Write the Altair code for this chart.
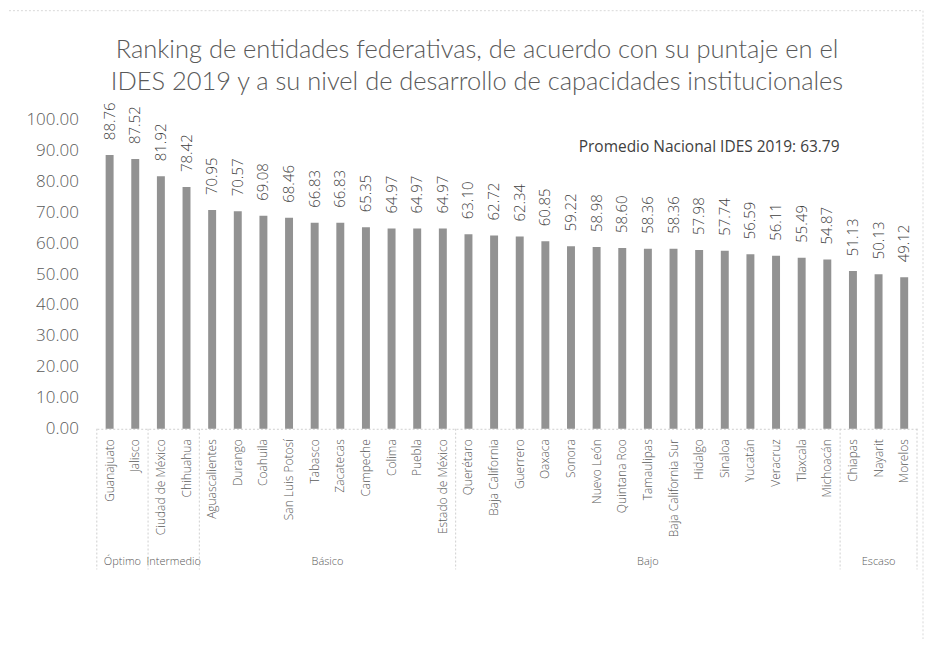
import altair as alt
import pandas as pd

estados = ["Guanajuato", "Jalisco", "Ciudad de México", "Chihuahua", "Aguascalientes",
           "Durango", "Coahuila", "San Luis Potosí", "Tabasco", "Zacatecas", "Campeche",
           "Colima", "Puebla", "Estado de México", "Querétaro", "Baja California",
           "Guerrero", "Oaxaca", "Sonora", "Nuevo León", "Quintana Roo", "Tamaulipas",
           "Baja California Sur", "Hidalgo", "Sinaloa", "Yucatán", "Veracruz", "Tlaxcala",
           "Michoacán", "Chiapas", "Nayarit", "Morelos"]
puntajes = [88.76, 87.52, 81.92, 78.42, 70.95, 70.57, 69.08, 68.46, 66.83, 66.83, 65.35,
            64.97, 64.97, 64.97, 63.10, 62.72, 62.34, 60.85, 59.22, 58.98, 58.60, 58.36,
            58.36, 57.98, 57.74, 56.59, 56.11, 55.49, 54.87, 51.13, 50.13, 49.12]
niveles = ["Óptimo", "Intermedio", "Básico", "Bajo", "Escaso"]
nivel_inicio = [0, 2, 4, 14, 29]
nivel_fin = [2, 4, 14, 29, 32]
y_ticks = [0, 10, 20, 30, 40, 50, 60, 70, 80, 90, 100]
titulo = ["Ranking de entidades federativas, de acuerdo con su puntaje en el",
          "IDES 2019 y a su nivel de desarrollo de capacidades institucionales"]
promedio_texto = "Promedio Nacional IDES 2019: 63.79"

W, H = 822, 309
GRAY = "#595959"
FONT = "Open Sans"

df = pd.DataFrame({"estado": estados, "puntaje": puntajes})
grp = pd.DataFrame({"nivel": niveles, "ini": nivel_inicio, "fin": nivel_fin})
grp["mid"] = (grp["ini"] + grp["fin"]) / 2
bounds = pd.DataFrame({"b": sorted(set(nivel_inicio + nivel_fin))})
ticks_df = pd.DataFrame({"puntaje": y_ticks})

xaxis = alt.Axis(title=None, labelAngle=-90, labelFontSize=12, labelColor=GRAY,
                 labelFont=FONT, labelFontWeight=300, ticks=False,
                 domainColor="#cfcfcf", domainDash=[2, 2], labelPadding=10,
                 labelLimit=200)
xscale = alt.Scale(paddingInner=0.69, paddingOuter=0.345)
yscale = alt.Scale(domain=[0, 100], nice=False)

bars = alt.Chart(df).mark_bar(color="#929292").encode(
    x=alt.X("estado:N", sort=estados, scale=xscale, axis=xaxis),
    y=alt.Y("puntaje:Q", scale=yscale, axis=None))
labels = alt.Chart(df).mark_text(angle=270, align="left", baseline="middle", dx=15,
                                 fontSize=15, font=FONT, fontWeight=300,
                                 color="#404040").encode(
    x=alt.X("estado:N", sort=estados, scale=xscale, axis=xaxis),
    y=alt.Y("puntaje:Q", scale=yscale, axis=None),
    text=alt.Text("puntaje:Q", format=".2f"))
ylabels = alt.Chart(ticks_df).mark_text(align="right", baseline="middle", fontSize=17,
                                        font=FONT, fontWeight=300, color=GRAY).encode(
    x=alt.value(-18),
    y=alt.Y("puntaje:Q", scale=yscale, axis=None),
    text=alt.Text("puntaje:Q", format=".2f"))
promedio = alt.Chart(pd.DataFrame({"t": [promedio_texto]})).mark_text(
    align="left", baseline="middle", fontSize=15.5, font=FONT, color="#404040").encode(
    x=alt.value(483), y=alt.value(27), text="t:N")

base_left = alt.layer(bars, labels, ylabels, promedio)

xq = alt.Scale(domain=[0, 32], nice=False, zero=False)
seps = alt.Chart(bounds).mark_rule(color="#cfcfcf", strokeDash=[2, 2], strokeWidth=1).encode(
    x=alt.X("b:Q", scale=xq, axis=None), y=alt.value(H), y2=alt.value(H + 141))
glabels = alt.Chart(grp).mark_text(fontSize=11, font=FONT, fontWeight=300, color=GRAY,
                                   baseline="middle").encode(
    x=alt.X("mid:Q", scale=xq, axis=None), y=alt.value(H + 134), text="nivel:N")
t1 = alt.Chart(pd.DataFrame({"t": [titulo[0]]})).mark_text(
    fontSize=25.5, font="Lato", fontWeight=300, color=GRAY, baseline="middle",
    align="center").encode(x=alt.value(381), y=alt.value(-71), text="t:N")
t2 = alt.Chart(pd.DataFrame({"t": [titulo[1]]})).mark_text(
    fontSize=25.5, font="Lato", fontWeight=300, color=GRAY, baseline="middle",
    align="center").encode(x=alt.value(381), y=alt.value(-39), text="t:N")
border = alt.Chart(pd.DataFrame({"k": [0]})).mark_rect(
    fill="transparent", stroke="#d9d9d9", strokeDash=[2, 2], strokeWidth=1).encode(
    x=alt.value(-92), x2=alt.value(W + 6), y=alt.value(-110), y2=alt.value(H + 240))

chart = alt.layer(base_left, seps, glabels, t1, t2, border).resolve_scale(
    x="independent").properties(
    width=W, height=H, background="white",
    padding={"left": 89, "top": 112, "right": 8, "bottom": 210},
    autosize=alt.AutoSizeParams(type="none"),
).configure_view(stroke="transparent", strokeWidth=0)

chart.save("out.html", embed_options={"renderer": "svg", "actions": False})
